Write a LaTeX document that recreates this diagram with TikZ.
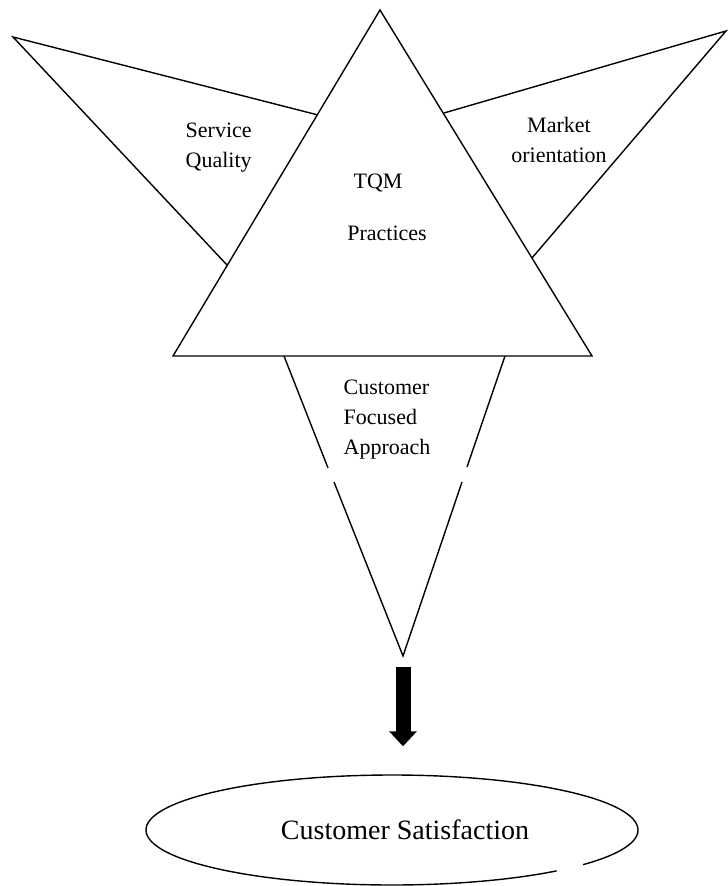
\documentclass[tikz,border=0pt]{standalone}
\usepackage{fontspec}
\setmainfont{Liberation Serif}
\usetikzlibrary{shapes.geometric,arrows.meta}

\begin{document}
\begin{tikzpicture}[x=0.5pt,y=-0.5pt,line width=0.7pt,
    lbl/.style={font=\fontsize{11}{15}\selectfont,inner sep=0pt},
    bigarrow/.style={-{Triangle[width=13.5pt,length=7.5pt]},line width=7.5pt,
      shorten <=5.5pt,shorten >=14pt}]
  \useasboundingbox (0,0) rectangle (727,886);
  % corners of the shapes
  \path
    (380,10) coordinate (top)
    (173,356) coordinate (bl)
    (592,356) coordinate (br)
    (13,37) coordinate (sq)
    (318,115) coordinate (sqa)
    (227,265) coordinate (sqb)
    (726,31) coordinate (mo)
    (444,113) coordinate (moa)
    (532,258) coordinate (mob)
    (284,356) coordinate (cfa)
    (505,356) coordinate (cfb)
    (403,656) coordinate (cf)
    (328,468) coordinate (cfl1)
    (334,482) coordinate (cfl2)
    (467,467) coordinate (cfr1)
    (462,482) coordinate (cfr2);
  % TQM triangle and wings
  \draw (top) -- (bl) -- (br) -- cycle;
  \draw (sqa) -- (sq) -- (sqb);
  \draw (moa) -- (mo) -- (mob);
  \draw (cfl1) -- (cfa);
  \draw (cfb) -- (cfr1);
  \draw (cfl2) -- (cf) -- (cfr2);
  % labels
  \node[lbl,align=left,anchor=west] (sqt) at (185,148) {Service\\Quality};
  \node[lbl,align=center] (mot) at (559,140) {Market\\orientation};
  \node[lbl] (tqm) at (378,183) {TQM};
  \node[lbl] (prac) at (387,233) {Practices};
  \node[lbl,align=left,anchor=west] (cft) at (343,420) {Customer\\Focused\\Approach};
  % outcome
  \node[ellipse,minimum width=246pt,minimum height=55pt,inner sep=0pt] (sat) at (392,830) {};
  \node[font=\fontsize{14}{17}\selectfont,inner sep=0pt] (satt) at (405,830) {Customer Satisfaction};
  \draw (sat.center) ++(-39:123pt and 27.5pt)
    arc[start angle=-39,end angle=312,x radius=123pt,y radius=27.5pt];
  \draw[bigarrow] (cf) -- (cf |- sat.north);
\end{tikzpicture}
\end{document}
